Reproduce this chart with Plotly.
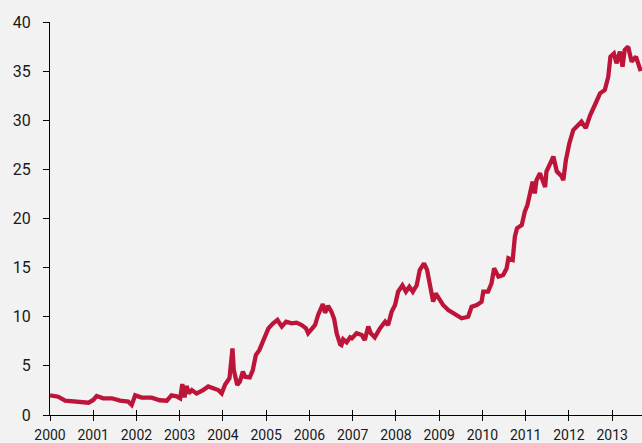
import plotly.graph_objects as go

# decimal-year dates and values
years = [
    2000.00, 2000.19, 2000.35, 2000.65, 2000.89, 2001.00, 2001.08, 2001.23, 2001.43, 2001.62,
    2001.81, 2001.89, 2001.97, 2002.12, 2002.35, 2002.54, 2002.70, 2002.81, 2002.93, 2003.01,
    2003.06, 2003.11, 2003.16, 2003.21, 2003.28, 2003.39, 2003.47, 2003.54, 2003.66, 2003.78,
    2003.85, 2003.89, 2003.97, 2004.05, 2004.15, 2004.18, 2004.22, 2004.25, 2004.33, 2004.39,
    2004.46, 2004.51, 2004.62, 2004.69, 2004.76, 2004.84, 2004.93, 2005.01, 2005.05, 2005.16,
    2005.26, 2005.36, 2005.46, 2005.59, 2005.70, 2005.82, 2005.92, 2005.97, 2006.05, 2006.13,
    2006.20, 2006.31, 2006.36, 2006.43, 2006.51, 2006.57, 2006.63, 2006.67, 2006.71, 2006.74,
    2006.78, 2006.86, 2006.94, 2006.98, 2007.09, 2007.21, 2007.28, 2007.36, 2007.42, 2007.51,
    2007.63, 2007.75, 2007.82, 2007.90, 2007.98, 2008.05, 2008.15, 2008.23, 2008.31, 2008.39,
    2008.48, 2008.55, 2008.65, 2008.72, 2008.80, 2008.86, 2008.92, 2009.00, 2009.09, 2009.21,
    2009.32, 2009.40, 2009.52, 2009.67, 2009.75, 2009.87, 2009.98, 2010.02, 2010.13, 2010.21,
    2010.27, 2010.37, 2010.48, 2010.56, 2010.60, 2010.70, 2010.75, 2010.80, 2010.91, 2010.98,
    2011.04, 2011.10, 2011.16, 2011.21, 2011.25, 2011.33, 2011.45, 2011.48, 2011.56, 2011.64,
    2011.72, 2011.83, 2011.87, 2011.93, 2012.01, 2012.10, 2012.21, 2012.29, 2012.39, 2012.49,
    2012.60, 2012.72, 2012.83, 2012.91, 2012.96, 2013.04, 2013.10, 2013.18, 2013.24, 2013.29,
    2013.37, 2013.45, 2013.55, 2013.63, 2013.66,
]
values = [
    2.00, 1.86, 1.46, 1.35, 1.25, 1.53, 1.93, 1.70, 1.70, 1.46,
    1.36, 1.02, 2.00, 1.77, 1.77, 1.50, 1.45, 2.00, 1.90, 1.70,
    3.15, 1.80, 2.95, 2.20, 2.54, 2.20, 2.37, 2.54, 2.90, 2.70,
    2.61, 2.54, 2.20, 3.10, 3.73, 5.09, 6.78, 4.58, 3.05, 3.39,
    4.41, 3.90, 3.83, 4.58, 6.10, 6.60, 7.63, 8.30, 8.82, 9.33,
    9.67, 9.00, 9.50, 9.33, 9.40, 9.16, 8.82, 8.32, 8.72, 9.16,
    10.18, 11.30, 10.40, 11.10, 10.50, 9.80, 8.30, 7.63, 7.20, 7.12,
    7.70, 7.40, 7.90, 7.80, 8.32, 8.14, 7.63, 9.00, 8.32, 7.90,
    8.82, 9.50, 9.16, 10.50, 11.20, 12.55, 13.20, 12.55, 13.06, 12.55,
    13.20, 14.76, 15.44, 14.76, 13.06, 11.53, 12.38, 11.87, 11.20, 10.69,
    10.35, 10.08, 9.84, 10.00, 11.02, 11.20, 11.53, 12.55, 12.55, 13.40,
    14.93, 14.08, 14.25, 14.93, 15.95, 15.78, 18.15, 19.00, 19.34, 20.70,
    21.37, 22.56, 23.75, 22.56, 23.90, 24.60, 23.20, 24.77, 25.60, 26.30,
    24.80, 24.30, 23.90, 25.95, 27.65, 29.00, 29.50, 29.85, 29.20, 30.50,
    31.55, 32.74, 33.08, 34.43, 36.47, 36.80, 35.80, 36.98, 35.45, 37.15,
    37.49, 35.96, 36.47, 35.30, 35.00,
]

x_tick_vals = list(range(2000, 2014))
x_tick_text = [str(v) for v in x_tick_vals]
y_tick_vals = [0, 5, 10, 15, 20, 25, 30, 35, 40]

LINE_COLOR = "#bd1439"
BG = "#f2f2f2"
X_RANGE = [2000, 2013.69]

fig = go.Figure()
fig.add_trace(go.Scatter(
    x=years, y=values, mode="lines",
    line=dict(color=LINE_COLOR, width=4.3),
    hoverinfo="skip", showlegend=False,
))
# invisible helper trace so the second (inside-tick) x axis is drawn
fig.add_trace(go.Scatter(
    x=[X_RANGE[0]], y=[0], xaxis="x2", mode="markers",
    marker=dict(opacity=0), hoverinfo="skip", showlegend=False,
))

fig.update_layout(
    width=642, height=443,
    margin=dict(l=50, r=0, t=22, b=28),
    paper_bgcolor=BG, plot_bgcolor=BG,
    font=dict(family="Roboto, 'Open Sans', sans-serif", color="#1a1a1a"),
    xaxis=dict(
        range=X_RANGE, tickvals=x_tick_vals, ticktext=x_tick_text,
        showgrid=False, zeroline=False, automargin=False,
        showline=True, linecolor="#000", linewidth=1.3,
        ticks="outside", ticklen=5, tickcolor="#000", tickwidth=1.3,
        tickfont=dict(size=14), ticklabelstandoff=2,
    ),
    xaxis2=dict(
        range=X_RANGE, tickvals=x_tick_vals, overlaying="x",
        showgrid=False, zeroline=False, showline=False, automargin=False,
        ticks="inside", ticklen=5, tickcolor="#000", tickwidth=1.3,
        showticklabels=False, side="bottom",
    ),
    yaxis=dict(
        range=[0, 40], tickvals=y_tick_vals,
        showgrid=False, zeroline=False, automargin=False,
        showline=True, linecolor="#000", linewidth=1.3,
        ticks="outside", ticklen=6, tickcolor="#000", tickwidth=1.3,
        tickfont=dict(size=16), ticklabelstandoff=9,
    ),
)

fig.write_html(
    "out.html",
    config={"displayModeBar": False},
    post_script="document.body.style.margin='0';"
                "document.body.style.background='#f2f2f2';"
                "document.body.style.overflow='hidden';",
)
